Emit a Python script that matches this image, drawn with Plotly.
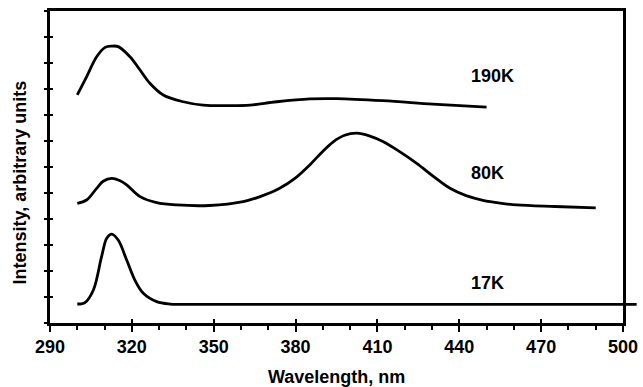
import plotly.graph_objects as go

# ---- data ----
wl_17K = [300, 301.5, 302.8, 305.9, 308.9, 310.8, 312.6, 315.0, 318.1, 321.1, 324.2, 329.1, 334.0, 350, 400, 450, 505]
int_17K = [0.73, 0.74, 0.78, 1.27, 2.55, 3.26, 3.42, 3.19, 2.42, 1.65, 1.14, 0.82, 0.73, 0.72, 0.72, 0.72, 0.72]

wl_80K = [300, 303.4, 307.1, 309.5, 312.6, 315.5, 318.1, 323.0, 329.1, 336.4, 348.6, 360.8, 367.0, 374.0,
          380.0, 385.3, 389.5, 393.7, 398.0, 402.4, 407.0, 412.0, 418.0, 424.4, 430.5, 436.6, 442.5,
          448.7, 455.0, 461.0, 475.0, 490.0]
int_80K = [4.60, 4.73, 5.18, 5.45, 5.56, 5.48, 5.31, 4.86, 4.63, 4.54, 4.52, 4.67, 4.86, 5.17,
           5.58, 6.09, 6.55, 6.96, 7.22, 7.30, 7.20, 6.98, 6.60, 6.14, 5.64, 5.18, 4.90,
           4.72, 4.61, 4.54, 4.48, 4.43]

wl_190K = [300, 303.4, 307.1, 310.2, 312.6, 315.0, 319.3, 323.0, 326.6, 331.5, 338.8, 346.2, 356.0,
           363.3, 373.1, 385.3, 395.0, 412.0, 430.3, 450.0]
int_190K = [8.77, 9.47, 10.24, 10.60, 10.65, 10.63, 10.24, 9.73, 9.22, 8.77, 8.51, 8.38, 8.36,
            8.38, 8.51, 8.62, 8.63, 8.55, 8.42, 8.30]

labels = ["190K", "80K", "17K"]
label_x = [443.5, 443.5, 443.5]
label_y = [9.51, 5.78, 1.53]

x_tickvals = [290, 320, 350, 380, 410, 440, 470, 500]
x_ticktext = ["290", "320", "350", "380", "410", "440", "470", "500"]

# ---- layout geometry ----
W, H = 643, 387
L, R, T, B = 50, 5, 11, 64
plot_w = W - L - R
main_frac = 573 / plot_w
px_per_nm = 573 / 210.0
x3_max = 290 + plot_w / px_per_nm

FONT = "Liberation Sans, Arial, sans-serif"
LW = 2.8

fig = go.Figure()
fig.add_trace(go.Scatter(x=wl_190K, y=int_190K, mode="lines", line=dict(color="black", width=LW, shape="spline"),
                         showlegend=False, hoverinfo="skip"))
fig.add_trace(go.Scatter(x=wl_80K, y=int_80K, mode="lines", line=dict(color="black", width=LW, shape="spline"),
                         showlegend=False, hoverinfo="skip"))
# 17K line runs slightly past the frame: put on an invisible axis pair spanning wider
fig.add_trace(go.Scatter(x=wl_17K, y=int_17K, mode="lines", line=dict(color="black", width=LW, shape="spline"),
                         xaxis="x3", yaxis="y3", showlegend=False, hoverinfo="skip"))
# invisible trace to activate the inside-tick overlay axes
fig.add_trace(go.Scatter(x=wl_17K, y=int_17K, mode="lines", line=dict(color="rgba(0,0,0,0)", width=0),
                         xaxis="x2", yaxis="y2", showlegend=False, hoverinfo="skip"))

tickfont = dict(family=FONT, size=18, color="black", weight="bold")

fig.update_layout(
    width=W, height=H,
    margin=dict(l=L, r=R, t=T, b=B),
    paper_bgcolor="white", plot_bgcolor="rgba(0,0,0,0)",
    xaxis=dict(domain=[0, main_frac], range=[290, 500], tickvals=x_tickvals, ticktext=x_ticktext,
               ticks="outside", ticklen=6, tickwidth=2, tickcolor="black",
               minor=dict(dtick=10, tick0=290, ticks="outside", ticklen=4, tickwidth=2, tickcolor="black"),
               showline=True, linecolor="black", linewidth=2.5, mirror=True, automargin=False,
               showgrid=False, zeroline=False, tickfont=tickfont, anchor="y"),
    yaxis=dict(range=[0, 12], dtick=1, tick0=0, ticks="outside", ticklen=3, tickwidth=2, tickcolor="black",
               showticklabels=False, showline=True, linecolor="black", linewidth=2.5, mirror=True,
               automargin=False, showgrid=False, zeroline=False, anchor="x"),
    xaxis2=dict(domain=[0, main_frac], range=[290, 500], tickvals=x_tickvals, ticks="inside", ticklen=4,
                tickwidth=2, tickcolor="black", showticklabels=False, showline=False, showgrid=False,
                zeroline=False, overlaying="x", anchor="y2", automargin=False),
    yaxis2=dict(range=[0, 12], dtick=1, tick0=0, ticks="inside", ticklen=3, tickwidth=2, tickcolor="black",
                showticklabels=False, showline=False, showgrid=False, zeroline=False,
                overlaying="y", anchor="x2", automargin=False),
    xaxis3=dict(domain=[0, 1], range=[290, x3_max], visible=False, anchor="y3", automargin=False),
    yaxis3=dict(domain=[0, 1], range=[0, 12], visible=False, anchor="x3", automargin=False),
)

for txt, lx, ly in zip(labels, label_x, label_y):
    fig.add_annotation(x=lx, y=ly, xref="x", yref="y", text=txt, showarrow=False,
                       xanchor="left", yanchor="middle", font=dict(family=FONT, size=18, color="black", weight="bold"))

# axis titles
fig.add_annotation(x=(336.5 - L) / plot_w, y=(T + 312 - 377) / 312, xref="paper", yref="paper",
                   text="Wavelength, nm", showarrow=False, xanchor="center", yanchor="middle",
                   font=dict(family=FONT, size=18, color="black", weight="bold"))
fig.add_annotation(x=(19.5 - L) / plot_w, y=(T + 312 - 183) / 312, xref="paper", yref="paper",
                   text="Intensity, arbitrary units", showarrow=False, xanchor="center", yanchor="middle",
                   textangle=-90, font=dict(family=FONT, size=18, color="black", weight="bold"))

fig.write_html("out.html")
